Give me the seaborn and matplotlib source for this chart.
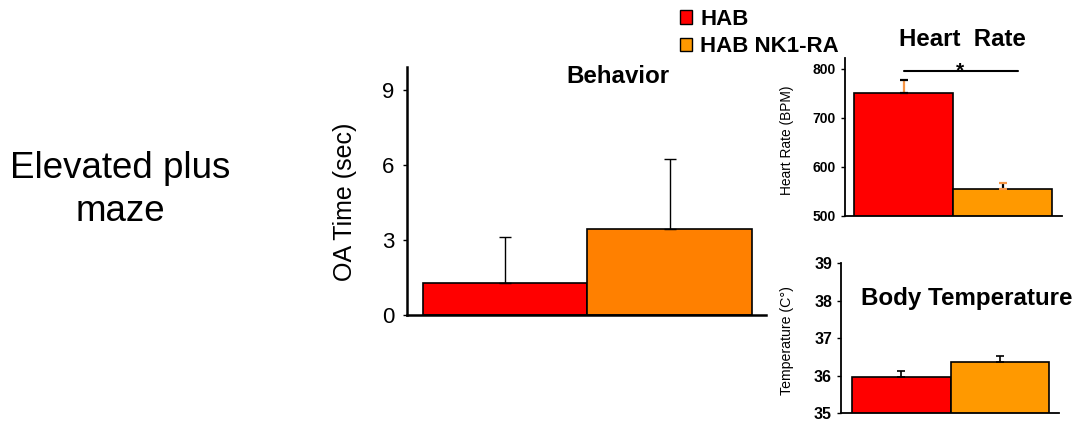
import matplotlib
matplotlib.use("Agg")
import matplotlib.pyplot as plt
import seaborn as sns
import pandas as pd
from matplotlib.patches import Patch

sns.set_theme(style="white")
plt.rcParams['font.family'] = ['Liberation Sans', 'DejaVu Sans']
for k in ["text.color", "axes.labelcolor", "xtick.color", "ytick.color"]:
    plt.rcParams[k] = "black"

# ---- data ----
groups = ["HAB", "HAB NK1-RA"]
oa_time = [1.28, 3.44]
oa_err = [1.84, 2.80]
heart_rate = [750, 556]
heart_rate_err = [27, 12]
body_temp = [35.95, 36.36]
body_temp_err = [0.18, 0.16]
oa_ticks = [0, 3, 6, 9]
hr_ticks = [500, 600, 700, 800]
temp_ticks = [35, 36, 37, 38, 39]

red = "#FF0000"
orange_beh = "#FF8000"
orange = "#FF9900"
err_orange = "#F79646"

W, H = 1079, 423
fig = plt.figure(figsize=(W / 100, H / 100), dpi=100)


def axes_px(left, top, right, bottom):
    return fig.add_axes([left / W, 1 - bottom / H, (right - left) / W, (bottom - top) / H])


def bars(ax, vals, errs, pal, stem_colors, cap_colors, capsize, lw_err):
    df = pd.DataFrame({"group": groups, "value": vals})
    sns.barplot(data=df, x="group", y="value", hue="group", palette=pal,
                saturation=1, width=1.0, dodge=False, errorbar=None, edgecolor="black",
                linewidth=1.2, legend=False, ax=ax)
    for i, (v, e) in enumerate(zip(vals, errs)):
        _, caps, _ = ax.errorbar([i], [v], yerr=[[0], [e]], fmt="none",
                                 ecolor=stem_colors[i], capsize=capsize,
                                 elinewidth=lw_err, capthick=lw_err)
        for c in caps:
            c.set_markeredgecolor(cap_colors[i])
            c.set_markerfacecolor(cap_colors[i])
    ax.set_xlabel("")
    ax.set_xticks([])
    for s in ["top", "right"]:
        ax.spines[s].set_visible(False)
    ax.tick_params(axis="y", which="both", left=True, length=3, width=1, color="black")
    ax.set_facecolor("none")


# ---- Behavior ----
ax1 = axes_px(407, 67, 766, 315)
bars(ax1, oa_time, oa_err, [red, orange_beh], ["black", "black"], ["black", "black"], 4, 1)
ax1.set_ylim(0, 9.92)
ax1.set_xlim(-0.597, 1.585)
ax1.set_yticks(oa_ticks)
ax1.set_yticklabels([str(t) for t in oa_ticks], fontsize=16)
ax1.tick_params(axis="y", pad=6)
for s in ["left", "bottom"]:
    ax1.spines[s].set_linewidth(1.8)
    ax1.spines[s].set_color("black")
ax1.set_ylabel("OA Time (sec)", fontsize=18)
ax1.yaxis.set_label_coords(-0.139, 0.455)
ax1.text(0.588, 0.96, "Behavior", transform=ax1.transAxes, ha="center", va="center",
         fontsize=17.4, fontweight="bold")

# ---- Heart Rate ----
ax2 = axes_px(845, 58, 1062, 216)
bars(ax2, heart_rate, heart_rate_err, [red, orange], [err_orange, "black"],
     ["black", err_orange], 3, 1.6)
ax2.set_ylim(500, 822)
ax2.set_xlim(-0.591, 1.601)
ax2.set_yticks(hr_ticks)
ax2.set_yticklabels([str(t) for t in hr_ticks], fontsize=10, fontweight="bold")
for s in ["left", "bottom"]:
    ax2.spines[s].set_linewidth(1.3)
    ax2.spines[s].set_color("black")
ax2.set_ylabel("Heart Rate (BPM)", fontsize=9.9)
ax2.yaxis.set_label_coords(-0.235, 0.48)
ax2.plot([0.0, 1.16], [795, 795], color="black", lw=1.5, clip_on=False)
ax2.text(0.57, 785, "*", ha="center", va="baseline", fontsize=15, fontweight="bold")
fig.text(962 / W, 1 - 39 / H, "Heart  Rate", ha="center", va="center",
         fontsize=17.3, fontweight="bold")

# ---- Body Temperature ----
ax3 = axes_px(841, 263, 1059, 413)
bars(ax3, body_temp, body_temp_err, [red, orange], ["black", "black"],
     ["black", "black"], 3, 1.2)
ax3.set_ylim(35, 39)
ax3.set_xlim(-0.612, 1.60)
ax3.set_yticks(temp_ticks)
ax3.set_yticklabels([str(t) for t in temp_ticks], fontsize=11.5, fontweight="bold")
for s in ["left", "bottom"]:
    ax3.spines[s].set_linewidth(1.3)
    ax3.spines[s].set_color("black")
ax3.set_ylabel("Temperature (C°)", fontsize=10.2)
ax3.yaxis.set_label_coords(-0.216, 0.48)
fig.text(967 / W, 1 - 298 / H, "Body Temperature", ha="center", va="center",
         fontsize=17.4, fontweight="bold")

# ---- Legend ----
handles = [Patch(facecolor=red, edgecolor="black", linewidth=1),
           Patch(facecolor=orange, edgecolor="black", linewidth=1)]
fig.legend(handles, groups, loc="upper left", bbox_to_anchor=(680 / W, 1 - 9 / H),
           frameon=False, borderpad=0, borderaxespad=0, handlelength=0.55,
           handleheight=0.55, handletextpad=0.36, labelspacing=0.28,
           prop={"weight": "bold", "size": 16})

# ---- Side label ----
fig.text(120 / W, 1 - 190 / H, "Elevated plus\nmaze", ha="center", va="center",
         fontsize=26.5, linespacing=1.27)

fig.savefig("out.png", dpi=100)
